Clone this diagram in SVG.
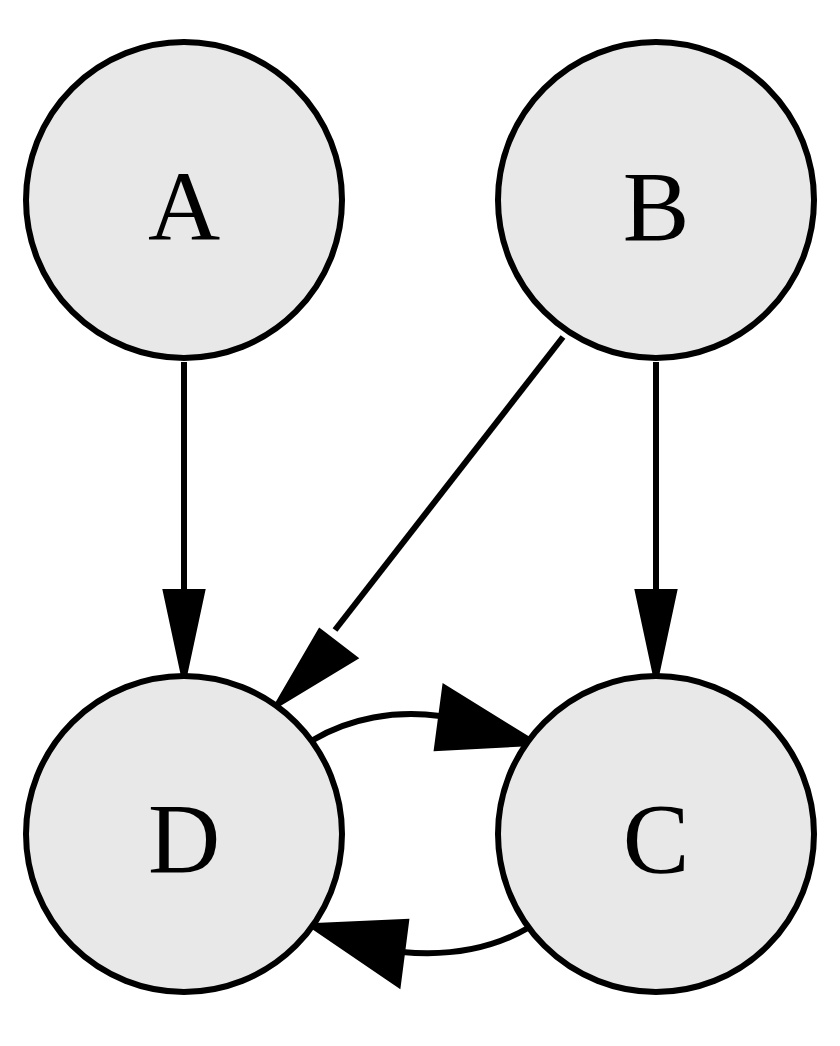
<svg xmlns="http://www.w3.org/2000/svg" width="840" height="1046" viewBox="0 0 840 1046">
<style>
.n{fill:#e8e8e8;stroke:#000;stroke-width:6}
.t{font-family:"Liberation Serif",serif;font-size:100px;text-anchor:middle}
.e{fill:none;stroke:#000;stroke-width:6}
.h{fill:#000;stroke:#000;stroke-width:6}
</style>
<rect width="840" height="1046" fill="#fff"/>
<g id="connectors">
<path class="e" d="M184,362 L184,592"/>
<polygon class="h" points="166,592 202,592 184,676"/>
<path class="e" d="M656,362 L656,592"/>
<polygon class="h" points="638,592 674,592 656,676"/>
<path class="e" d="M563,337 L335,630"/>
<polygon class="h" points="320,632 354,658 278,704"/>
<path class="e" d="M313,740 C350,718 395,710 440,716"/>
<polygon class="h" points="445,688 437,748 534,743"/>
<path class="e" d="M528,928 C490,950 445,956 402,952"/>
<polygon class="h" points="406,922 398,984 313,926"/>
</g>
<g id="A"><circle class="n" cx="184" cy="200" r="158"/><text class="t" x="184" y="240">A</text></g>
<g id="B"><circle class="n" cx="656" cy="200" r="158"/><text class="t" x="656" y="240">B</text></g>
<g id="D"><circle class="n" cx="184" cy="834" r="158"/><text class="t" x="184" y="872">D</text></g>
<g id="C"><circle class="n" cx="656" cy="834" r="158"/><text class="t" x="656" y="872">C</text></g>
</svg>
